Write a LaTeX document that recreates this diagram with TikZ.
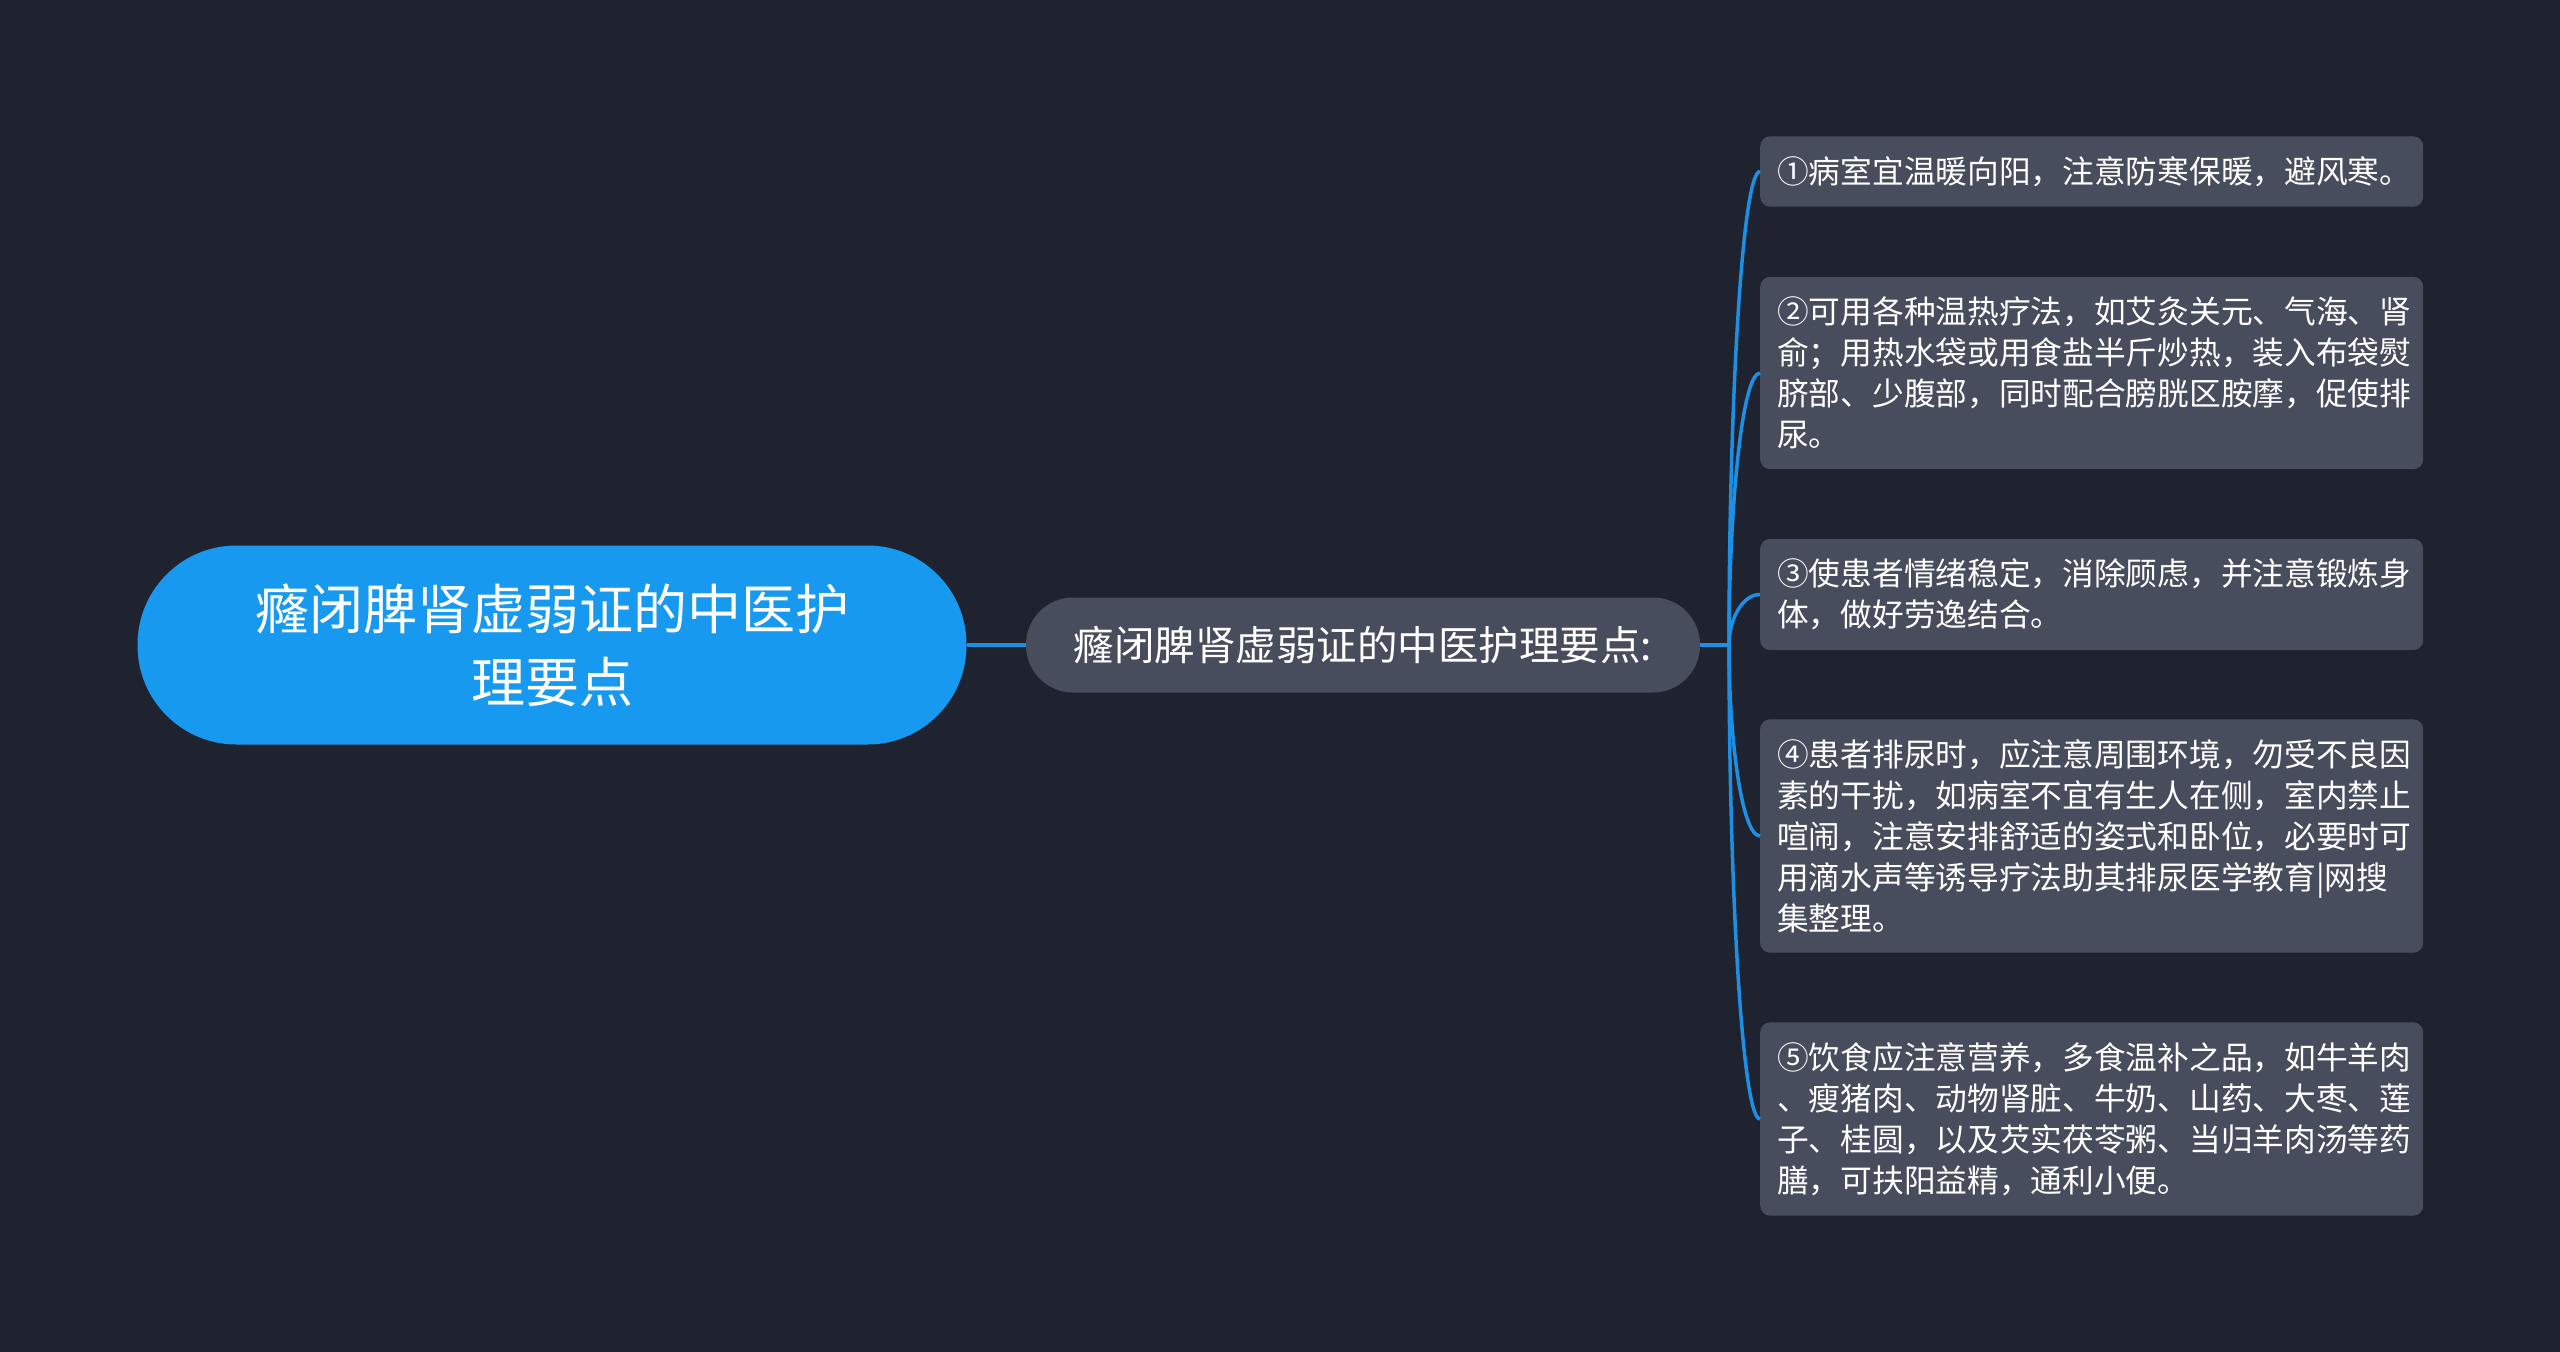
\documentclass[tikz,border=0pt]{standalone}
\usepackage{fontspec}
\setmainfont{Noto Sans CJK SC}
\usetikzlibrary{shapes,positioning,calc}

\definecolor{bgdark}{HTML}{1F2330}
\definecolor{rootblue}{HTML}{1899F0}
\definecolor{nodegray}{HTML}{474D5C}
\definecolor{linkblue}{HTML}{1C90E4}

\begin{document}
\begin{tikzpicture}[x=1pt, y=-1pt]
	\tikzstyle{Root}  = [rectangle, fill=rootblue, rounded corners=99pt, minimum width=829pt, minimum height=199pt, text=white, align=center, font=\fontsize{54}{73}\selectfont]
	\tikzstyle{Topic} = [rectangle, fill=nodegray, rounded corners=47pt, minimum width=674pt, minimum height=95pt, text=white, font=\fontsize{40.5}{48}\selectfont]
	\tikzstyle{Leaf}  = [rectangle, fill=nodegray, rounded corners=10pt, anchor=west, text width=629pt, inner xsep=17pt, inner ysep=20pt, align=left, text=white, font=\fontsize{31.7}{41}\selectfont]
	\tikzstyle{Link}  = [line width=4pt, linkblue]

	\fill[bgdark] (0,0) rectangle (2560,1352);
	\useasboundingbox (0,0) rectangle (2560,1352);

	\node (root) at (552, 645) [Root] {癃闭脾肾虚弱证的中医护\\理要点};
	\node (topic) at (1363, 645) [Topic] {癃闭脾肾虚弱证的中医护理要点:};
	\coordinate (hub) at (1729, 645);

	\node (l1) at (1760, 171.5) [Leaf] {①病室宜温暖向阳，注意防寒保暖，避风寒。};
	\node (l2) at (1760, 373) [Leaf] {②可用各种温热疗法，如艾灸关元、气海、肾\\俞；用热水袋或用食盐半斤炒热，装入布袋熨\\脐部、少腹部，同时配合膀胱区胺摩，促使排\\尿。};
	\node (l3) at (1760, 594.5) [Leaf] {③使患者情绪稳定，消除顾虑，并注意锻炼身\\体，做好劳逸结合。};
	\node (l4) at (1760, 836) [Leaf] {④患者排尿时，应注意周围环境，勿受不良因\\素的干扰，如病室不宜有生人在侧，室内禁止\\喧闹，注意安排舒适的姿式和卧位，必要时可\\用滴水声等诱导疗法助其排尿医学教育|网搜\\集整理。};
	\node (l5) at (1760, 1119) [Leaf] {⑤饮食应注意营养，多食温补之品，如牛羊肉\\、瘦猪肉、动物肾脏、牛奶、山药、大枣、莲\\子、桂圆，以及芡实茯苓粥、当归羊肉汤等药\\膳，可扶阳益精，通利小便。};

	\draw [-] (root) -- (topic) [Link];
	\draw [-] (topic) -- (hub) [Link];
	\foreach \n in {1,...,5}
		\draw [Link, line width=3.5pt] (hub) .. controls ($(hub)!0.5!(hub |- l\n.west)$) and ([xshift=-18pt]l\n.west) .. (l\n.west);
\end{tikzpicture}
\end{document}
